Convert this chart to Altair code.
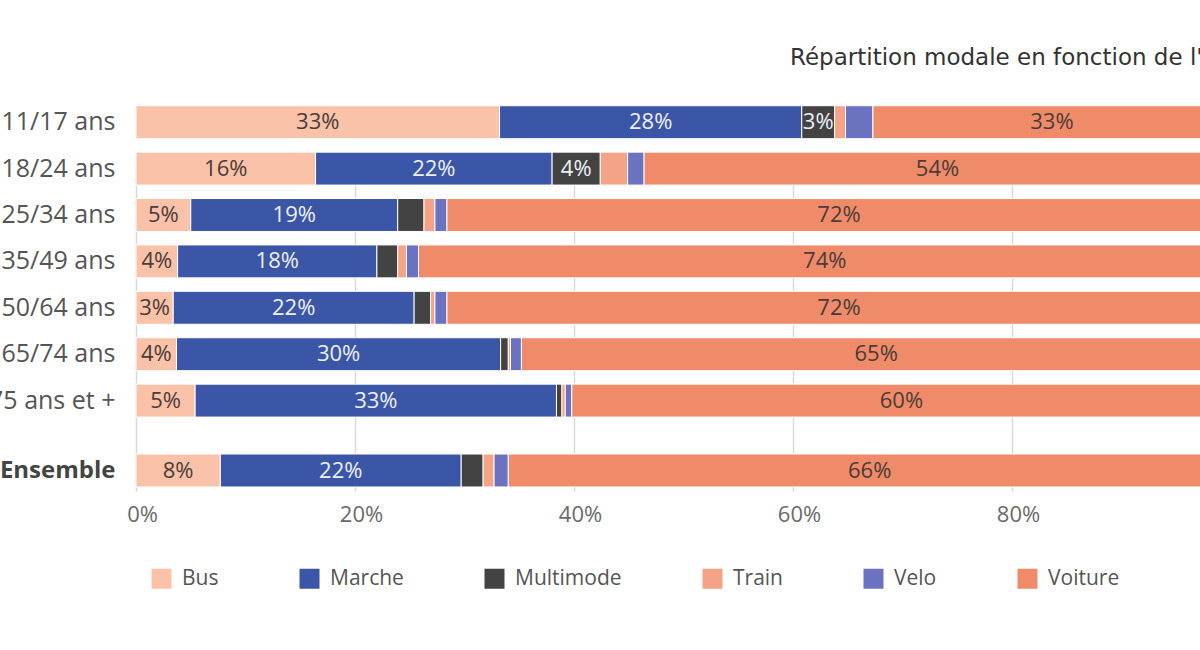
import altair as alt
import pandas as pd

ages = ["11/17 ans", "18/24 ans", "25/34 ans", "35/49 ans", "50/64 ans", "65/74 ans", "75 ans et +"]
overall = ["Ensemble"]
modes = ["Bus", "Marche", "Multimode", "Train", "Velo", "Voiture"]
colors = ["#F9C2A9", "#3B56A7", "#434343", "#F5A386", "#6B73C0", "#F08B69"]
x_ticks = [0, 20, 40, 60, 80]

# shares in %, one entry per row: the 7 age groups, then "Ensemble"
bus       = [33.2, 16.4, 5.0, 3.8, 3.4, 3.7, 5.4, 7.7]
marche    = [27.6, 21.6, 18.9, 18.2, 22.0, 29.6, 33.0, 22.0]
multimode = [3.0, 4.4, 2.4, 1.9, 1.5, 0.7, 0.5, 2.0]
train     = [1.0, 2.5, 1.0, 0.8, 0.4, 0.2, 0.3, 1.0]
velo      = [2.5, 1.5, 1.1, 1.1, 1.1, 1.0, 0.6, 1.3]
voiture   = [32.7, 53.6, 71.6, 74.2, 71.6, 64.8, 60.2, 66.0]

series = [bus, marche, multimode, train, velo, voiture]
cats = ages + overall
records = []
for mi, (m, vals) in enumerate(zip(modes, series)):
    for ci, c in enumerate(cats):
        records.append({"cat": c, "mode": m, "idx": mi, "value": vals[ci],
                        "grp": "age" if c in ages else "all"})
df = pd.DataFrame(records)
df_age = df[df.grp == "age"]
df_all = df[df.grp == "all"]

FONT = "Open Sans"
xscale = alt.Scale(domain=[0, 97.17], nice=False, zero=True)
xaxis = alt.Axis(values=x_ticks, labelExpr="datum.value + '%'", domain=False, ticks=False,
                 grid=True, gridColor="#d9d9d9", gridWidth=1.5, labelFont=FONT,
                 labelFontSize=22, labelColor="#6a6a6a", labelPadding=4, labelOffset=6,
                 labelFlush=False, title=None)
legend = alt.Legend(orient="none", legendX=15, legendY=478, direction="horizontal", title=None,
                    symbolType="square", symbolSize=400, symbolStrokeWidth=0,
                    labelFont=FONT, labelFontSize=21, labelColor="#555", labelOffset=10,
                    columnPadding=80)
color = alt.Color("mode:N", scale=alt.Scale(domain=modes, range=colors), legend=legend)


def make_group(data, domain, yrange, bold):
    yaxis = alt.Axis(orient="left", domain=False, ticks=False, labelPadding=21,
                     labelFont=FONT, labelFontSize=25 if not bold else 24,
                     labelColor="#444" if bold else "#555",
                     labelFontWeight="bold" if bold else "normal", labelLimit=300, title=None)
    y = alt.Y("cat:N", sort=domain,
              scale=alt.Scale(domain=domain, range=yrange, paddingInner=0.29, paddingOuter=0.145),
              axis=yaxis)
    base = alt.Chart(data)
    bars = base.mark_bar(stroke="white", strokeWidth=1, clip=True).encode(
        x=alt.X("value:Q", stack="zero", scale=xscale, axis=xaxis),
        y=y,
        color=color,
        order=alt.Order("idx:Q"),
    )
    text = base.transform_window(
        cum="sum(value)", groupby=["cat"], sort=[{"field": "idx"}], frame=[None, 0]
    ).transform_calculate(
        mid="datum.cum - datum.value / 2",
        lbl="format(datum.value, '.0f') + '%'"
    ).transform_filter("datum.value >= 3").mark_text(
        font=FONT, fontSize=22, baseline="middle", align="center", clip=True
    ).encode(
        x=alt.X("mid:Q", scale=xscale, axis=xaxis),
        y=y,
        text="lbl:N",
        color=alt.condition("datum.mode == 'Marche' || datum.mode == 'Multimode'",
                            alt.value("#eef0f8"), alt.value("#4a3c38")),
    )
    return alt.layer(bars, text)


top = make_group(df_age, ages, [9, 333.8], False)
bottom = make_group(df_all, overall, [357.3, 403.7], True)

chart = alt.layer(top, bottom).resolve_scale(y="independent").properties(
    width=1064, height=410,
    autosize=alt.AutoSizeParams(type="none"),
    padding={"left": 136, "top": 90, "right": 0, "bottom": 150},
    title=alt.TitleParams(text="Répartition modale en fonction de l'âge", anchor="start",
                          frame="group", dx=654, offset=20, fontSize=23, font="DejaVu Sans",
                          fontWeight="normal", color="#333"),
    background="white",
).configure_view(stroke=None)

chart.save("out.html", embed_options={"renderer": "svg", "actions": False})
